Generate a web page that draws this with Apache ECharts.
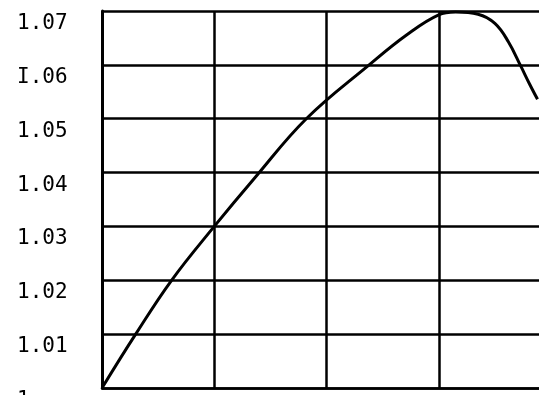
<!DOCTYPE html>
<html>
<head>
<meta charset="utf-8">
<script src="https://cdn.jsdelivr.net/npm/echarts@6/dist/echarts.min.js"></script>
<style>
	html, body {margin:0; padding:0; background:#fff; overflow:hidden;}
	#main {width:539px; height:395px;}
</style>
</head>
<body>
<div id="main"></div>
<script>
	// values
	var xValues = [0, 0.30, 0.62, 1.00, 1.36, 1.82, 2.38, 2.71, 3.00, 3.15, 3.35, 3.50, 3.62, 3.73, 3.81, 3.88];
	var yValues = [1.000, 1.010, 1.020, 1.030, 1.039, 1.050, 1.060, 1.0655, 1.0693, 1.0698, 1.0694, 1.0677, 1.0643, 1.0598, 1.0564, 1.0536];
	var yTickLabels = ['1', '1.01', '1.02', '1.03', '1.04', '1.05', 'I.06', '1.07'];

	var points = xValues.map(function (x, i) { return [x, yValues[i]]; });

	var myChart = echarts.init(document.getElementById('main'));
	var option = {
		backgroundColor: '#fff',
		animation: false,
		grid: {
			left: 102,
			right: -12,
			top: 11,
			bottom: 7,
			outerBoundsMode: 'none',
			containLabel: false
		},
		xAxis: {
			type: 'value',
			min: 0,
			max: 4,
			interval: 1,
			axisLine: {show: true, lineStyle: {color: '#000', width: 2.5}},
			axisTick: {show: false},
			axisLabel: {show: false},
			splitLine: {show: true, lineStyle: {color: '#000', width: 2.5}}
		},
		yAxis: {
			type: 'value',
			min: 1,
			max: 1.07,
			interval: 0.01,
			axisLine: {show: true, lineStyle: {color: '#000', width: 3}},
			axisTick: {show: false},
			axisLabel: {
				color: '#000',
				fontFamily: 'DejaVu Sans Mono',
				fontSize: 21,
				align: 'left',
				verticalAlign: 'top',
				padding: [2, 0, 0, 0],
				margin: 85,
				formatter: function (v) {
					return yTickLabels[Math.round((v - 1) * 100)];
				}
			},
			splitLine: {show: true, lineStyle: {color: '#000', width: 2.5}}
		},
		series: [{
			type: 'line',
			data: points,
			smooth: 0.4,
			showSymbol: false,
			lineStyle: {color: '#000', width: 3}
		}]
	};
	myChart.setOption(option);
</script>
</body>
</html>
